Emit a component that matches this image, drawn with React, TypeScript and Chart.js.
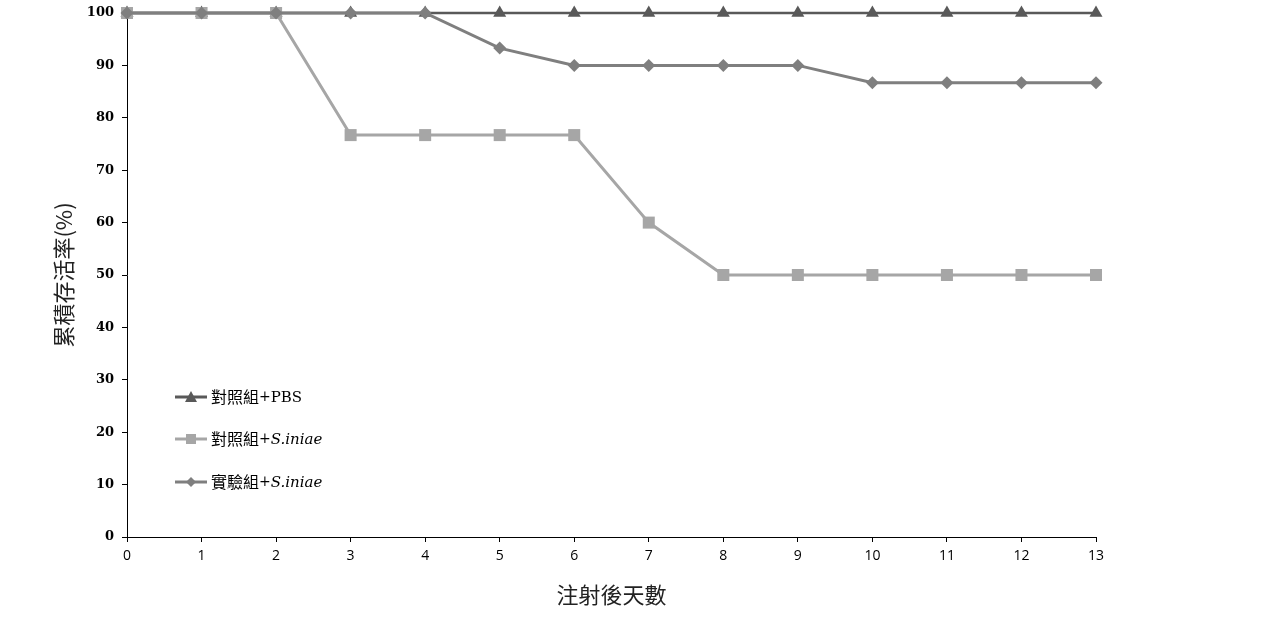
import { useEffect, useRef } from "react";
import { Chart, registerables } from "chart.js";

Chart.register(...registerables);

const days = ["0", "1", "2", "3", "4", "5", "6", "7", "8", "9", "10", "11", "12", "13"];
const pbsControl = [100, 100, 100, 100, 100, 100, 100, 100, 100, 100, 100, 100, 100, 100];
const iniaeControl = [100, 100, 100, 76.7, 76.7, 76.7, 76.7, 60, 50, 50, 50, 50, 50, 50];
const iniaeTreated = [100, 100, 100, 100, 100, 93.3, 90, 90, 90, 90, 86.7, 86.7, 86.7, 86.7];

const legendItems = [
  { zh: "對照組", tail: "PBS", italic: false, color: "#595959", marker: "triangle" },
  { zh: "對照組", tail: "S.iniae", italic: true, color: "#a6a6a6", marker: "rect" },
  { zh: "實驗組", tail: "S.iniae", italic: true, color: "#7f7f7f", marker: "rectRot" },
];

const cjk = '"Noto Sans CJK TC", "Noto Sans CJK SC", sans-serif';
const serif = '"DejaVu Serif", "Liberation Serif", serif';

const legendPlugin = {
  id: "inlineLegend",
  afterDraw(chart: Chart) {
    const { ctx, chartArea } = chart;
    const x0 = chartArea.left + 48;
    const rows = [397, 439, 482];
    ctx.save();
    legendItems.forEach((item, i) => {
      const y = rows[i];
      ctx.strokeStyle = item.color;
      ctx.lineWidth = 3;
      ctx.beginPath();
      ctx.moveTo(x0, y);
      ctx.lineTo(x0 + 32, y);
      ctx.stroke();
      ctx.fillStyle = item.color;
      const cx = x0 + 16;
      ctx.beginPath();
      if (item.marker === "triangle") {
        ctx.moveTo(cx, y - 6);
        ctx.lineTo(cx + 6, y + 5);
        ctx.lineTo(cx - 6, y + 5);
      } else if (item.marker === "rect") {
        ctx.rect(cx - 5, y - 5, 10, 10);
      } else {
        ctx.moveTo(cx, y - 5);
        ctx.lineTo(cx + 5, y);
        ctx.lineTo(cx, y + 5);
        ctx.lineTo(cx - 5, y);
      }
      ctx.closePath();
      ctx.fill();

      ctx.fillStyle = "#000";
      ctx.textBaseline = "middle";
      ctx.textAlign = "left";
      let tx = x0 + 36;
      ctx.font = `16px ${cjk}`;
      ctx.fillText(item.zh, tx, y);
      tx += ctx.measureText(item.zh).width;
      ctx.font = `14px ${serif}`;
      ctx.fillText("+", tx, y);
      tx += ctx.measureText("+").width;
      ctx.font = `${item.italic ? "italic " : ""}15px ${serif}`;
      ctx.fillText(item.tail, tx, y + 1);
    });
    ctx.restore();
  },
};

export default function App() {
  const canvasRef = useRef<HTMLCanvasElement>(null);

  useEffect(() => {
    const ctx = canvasRef.current!.getContext("2d")!;

    const chart = new Chart(ctx, {
      type: "line",
      data: {
        labels: days,
        datasets: [
          {
            label: "實驗組+S.iniae",
            data: iniaeTreated,
            borderColor: "#7f7f7f",
            backgroundColor: "#7f7f7f",
            borderWidth: 3,
            pointStyle: "rectRot",
            pointRadius: 6.5,
            pointBorderWidth: 0,
            clip: false,
          },
          {
            label: "對照組+S.iniae",
            data: iniaeControl,
            borderColor: "#a6a6a6",
            backgroundColor: "#a6a6a6",
            borderWidth: 3,
            pointStyle: "rect",
            pointRadius: 8.5,
            pointBorderWidth: 0,
            clip: false,
          },
          {
            label: "對照組+PBS",
            data: pbsControl,
            borderColor: "#595959",
            backgroundColor: "#595959",
            borderWidth: 2.5,
            pointStyle: "triangle",
            pointRadius: 7.5,
            pointBorderWidth: 0,
            clip: false,
          },
        ],
      },
      options: {
        responsive: false,
        animation: false,
        layout: { padding: { top: 13, right: 165, left: 0, bottom: 0 } },
        plugins: {
          legend: { display: false },
          tooltip: { enabled: false },
        },
        scales: {
          x: {
            offset: false,
            afterFit: (s: any) => {
              s.height = 103;
              s.paddingLeft = 0;
              s.paddingRight = 0;
            },
            grid: {
              drawOnChartArea: false,
              color: "#000",
              tickLength: 5,
            },
            border: { color: "#000", width: 1 },
            ticks: {
              color: "#000",
              font: { family: '"Open Sans", "Liberation Sans", sans-serif', size: 14 },
              padding: 6,
              maxRotation: 0,
            },
            title: {
              display: true,
              text: "注射後天數",
              color: "#222",
              font: { family: cjk, size: 22 },
              padding: { top: 0, bottom: 32 },
            },
          },
          y: {
            min: 0,
            max: 100,
            afterFit: (s: any) => {
              s.width = 127;
              s.paddingTop = 0;
              s.paddingBottom = 0;
            },
            grid: {
              drawOnChartArea: false,
              color: "#000",
              tickLength: 5,
            },
            border: { color: "#000", width: 1 },
            ticks: {
              stepSize: 10,
              color: "#000",
              font: { family: '"DejaVu Serif", serif', size: 13, weight: "bold" },
              padding: 8,
            },
            title: {
              display: true,
              text: "累積存活率(%)",
              color: "#222",
              font: { family: cjk, size: 22 },
              padding: { top: 50, bottom: 0 },
            },
          },
        },
      },
      plugins: [legendPlugin],
    });

    return () => {
      chart.destroy();
    };
  }, []);

  return (
    <div style={{ position: "absolute", left: 0, top: 0, width: 1261, height: 640, background: "#fff" }}>
      <canvas ref={canvasRef} width={1261} height={640} />
    </div>
  );
}
